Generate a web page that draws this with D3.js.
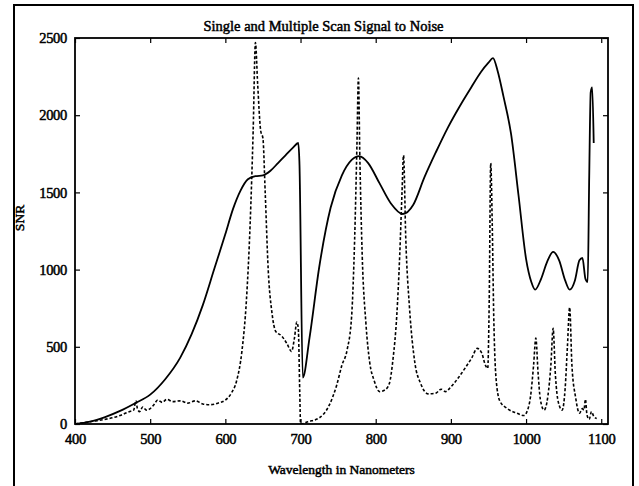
<!DOCTYPE html>
<html>
<head>
<meta charset="utf-8">
<script src="https://cdn.jsdelivr.net/npm/d3@7"></script>
<style>
  body { margin: 0; background: #fff; }
  text { font-family: "Liberation Serif", "Times New Roman", serif; fill: #000; }
</style>
</head>
<body>
<div id="chart"></div>
<script>
// single scan (solid) SNR vs wavelength
var solidWl  = [400, 420, 440, 460, 480, 500, 520, 540, 555, 570, 585, 600, 610, 620, 630, 640, 650, 660, 670, 680, 690, 697, 698.5, 703,
                712, 725, 740, 755, 768, 778, 790, 805, 820, 836, 850, 865, 880, 896, 912, 927, 940, 950, 956, 962, 970, 980, 990, 1000, 1007, 1012,
                1020, 1028, 1036, 1044, 1052, 1058, 1065, 1071, 1075, 1079, 1082, 1084, 1086, 1088, 1090];
var solidSnr = [0, 15, 45, 85, 135, 190, 290, 430, 580, 770, 1000, 1230, 1390, 1510, 1585, 1605, 1610, 1640, 1690, 1740, 1790, 1820, 1700, 300,
                560, 1020, 1400, 1610, 1710, 1735, 1690, 1560, 1430, 1360, 1420, 1600, 1760, 1920, 2060, 2180, 2280, 2340, 2370, 2290, 2120, 1880, 1480, 1070, 920, 870,
                940, 1050, 1115, 1060, 930, 870, 930, 1060, 1075, 940, 920, 1600, 2150, 2180, 1820];

// multiple scan (dashed) SNR vs wavelength
var dashWl  = [400, 420, 440, 460, 472, 478, 481, 483, 486, 490, 495, 500, 505, 510, 516, 522, 530, 540, 550, 560, 570, 580, 590, 600, 608, 615, 622, 628, 633, 637, 640, 643, 647, 650, 653, 657, 662, 667, 675, 682, 688, 692, 695, 697, 699, 700,
               710, 725, 738, 748, 755, 762, 768, 772, 775, 777, 779, 782, 787, 792, 798, 805, 812, 818, 823, 828, 832, 835, 837, 840, 845, 852, 860, 870, 880, 887, 893, 900, 910, 920, 928, 935, 941, 946, 949, 951, 953, 955, 957, 960, 965, 975, 988, 997,
               1002, 1006, 1010, 1013, 1016, 1019, 1024, 1029, 1033, 1036, 1039, 1043, 1048, 1052, 1055, 1058, 1061, 1066, 1071, 1075, 1077, 1079, 1081, 1084, 1087, 1090, 1094];
var dashSnr = [0, 15, 30, 55, 80, 90, 150, 100, 80, 110, 90, 100, 125, 155, 140, 160, 145, 150, 135, 150, 130, 125, 135, 155, 200, 280, 470, 800, 1300, 1900, 2470, 2200, 1900, 1850, 1500, 1000, 720, 600, 570, 520, 470, 560, 660, 620, 200, 0,
               15, 40, 120, 250, 380, 480, 700, 1200, 1800, 2240, 1700, 1100, 650, 400, 280, 210, 220, 260, 420, 700, 1100, 1500, 1740, 1200, 750, 400, 260, 195, 200, 225, 210, 240, 300, 370, 430, 490, 460, 380, 360, 800, 1690, 1300, 700, 300, 150, 100, 70, 55,
               90, 180, 380, 556, 330, 160, 90, 180, 380, 620, 320, 140, 90, 230, 500, 755, 380, 170, 70, 100, 90, 160, 60, 30, 80, 50, 35];

var yTicks = [0, 500, 1000, 1500, 2000, 2500];
var xTicks = [400, 500, 600, 700, 800, 900, 1000, 1100];

var svgWidth = 639;
var svgHeight = 486;

var plot = { left: 75, right: 608, top: 38, bottom: 424 };

var svg = d3.select("#chart")
  .append("svg")
  .attr("width", svgWidth)
  .attr("height", svgHeight);

// outer frame
svg.append("rect")
  .attr("x", 14)
  .attr("y", 5)
  .attr("width", 619)
  .attr("height", 495)
  .attr("fill", "none")
  .attr("stroke", "#000")
  .attr("stroke-width", 2);

var x = d3.scaleLinear()
  .domain([400, 1109])
  .range([plot.left, plot.right]);

var y = d3.scaleLinear()
  .domain([0, 2500])
  .range([plot.bottom, plot.top]);

var fmt = d3.format("d");

// axes with inward ticks (all four sides)
var bottomAxis = svg.append("g")
  .attr("transform", `translate(0, ${plot.bottom})`)
  .call(d3.axisBottom(x).tickValues(xTicks).tickFormat(fmt).tickSizeInner(-5).tickSizeOuter(0).tickPadding(10));

var topAxis = svg.append("g")
  .attr("transform", `translate(0, ${plot.top})`)
  .call(d3.axisTop(x).tickValues(xTicks).tickSizeInner(-5).tickSizeOuter(0).tickFormat(""));

var leftAxis = svg.append("g")
  .attr("transform", `translate(${plot.left}, 0)`)
  .call(d3.axisLeft(y).tickValues(yTicks).tickFormat(fmt).tickSizeInner(-5).tickSizeOuter(0).tickPadding(8));

var rightAxis = svg.append("g")
  .attr("transform", `translate(${plot.right}, 0)`)
  .call(d3.axisRight(y).tickValues(yTicks).tickSizeInner(-5).tickSizeOuter(0).tickFormat(""));

[bottomAxis, topAxis, leftAxis, rightAxis].forEach(function(g) {
  g.selectAll(".domain").remove();
  g.selectAll(".tick line").attr("stroke", "#000").attr("stroke-width", 1.2);
  g.selectAll("text")
    .attr("font-family", null)
    .attr("font-size", 14.5)
    .attr("letter-spacing", -0.3)
    .attr("stroke", "#000")
    .attr("stroke-width", 0.5);
});

// plot box
svg.append("rect")
  .attr("x", plot.left)
  .attr("y", plot.top)
  .attr("width", plot.right - plot.left)
  .attr("height", plot.bottom - plot.top)
  .attr("fill", "none")
  .attr("stroke", "#000")
  .attr("stroke-width", 1.8);

svg.append("clipPath").attr("id", "clip")
  .append("rect")
  .attr("x", plot.left)
  .attr("y", plot.top - 2)
  .attr("width", plot.right - plot.left)
  .attr("height", plot.bottom - plot.top + 2);

var line = d3.line()
  .x(d => x(d[0]))
  .y(d => y(d[1]))
  .curve(d3.curveMonotoneX);

var solidData = solidWl.map((w, i) => [w, solidSnr[i]]);
var dashData = dashWl.map((w, i) => [w, dashSnr[i]]);

var lines = svg.append("g").attr("clip-path", "url(#clip)");

lines.append("path")
  .datum(dashData)
  .attr("d", line)
  .attr("fill", "none")
  .attr("stroke", "#000")
  .attr("stroke-width", 1.6)
  .attr("stroke-dasharray", "3,2");

lines.append("path")
  .datum(solidData)
  .attr("d", line)
  .attr("fill", "none")
  .attr("stroke", "#000")
  .attr("stroke-width", 1.8);

// title and axis labels
svg.append("text")
  .attr("x", (plot.left + plot.right) / 2 - 18)
  .attr("y", 31)
  .attr("text-anchor", "middle")
  .attr("font-size", 14.5)
  .attr("stroke", "#000")
  .attr("stroke-width", 0.5)
  .text("Single and Multiple Scan Signal to Noise");

svg.append("text")
  .attr("x", (plot.left + plot.right) / 2)
  .attr("y", 474)
  .attr("text-anchor", "middle")
  .attr("font-size", 13.5)
  .attr("stroke", "#000")
  .attr("stroke-width", 0.5)
  .text("Wavelength in Nanometers");

svg.append("text")
  .attr("transform", "translate(24, 218) rotate(-90)")
  .attr("text-anchor", "middle")
  .attr("font-size", 13.5)
  .attr("stroke", "#000")
  .attr("stroke-width", 0.5)
  .text("SNR");
</script>
</body>
</html>
